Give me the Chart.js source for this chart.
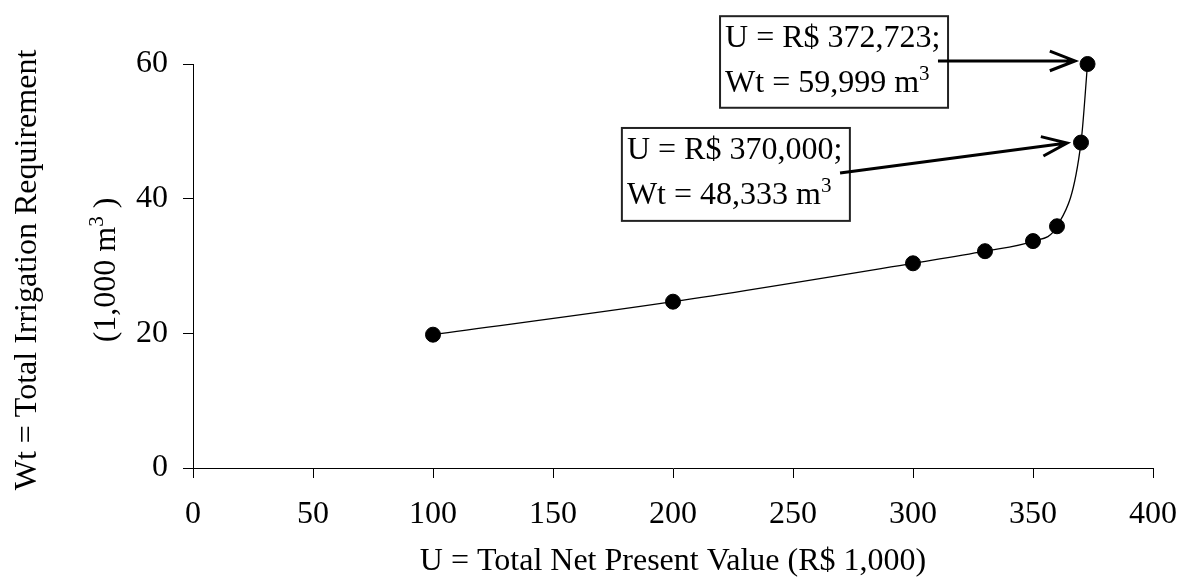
<!DOCTYPE html>
<html>
<head>
<meta charset="utf-8">
<script src="https://cdn.jsdelivr.net/npm/chart.js@4.4.0/dist/chart.umd.min.js"></script>
<style>
    html, body { margin: 0; padding: 0; background: #fff; }
    canvas { display: block; }
</style>
</head>
<body>
<canvas id="chart" width="1185" height="579"></canvas>
<script>
// values
const netPresentValue = [100, 200, 300, 330, 350, 360, 370, 372.723];
const irrigationReq = [19.8, 24.7, 30.4, 32.2, 33.7, 35.9, 48.333, 59.999];

const xTitle = 'U = Total Net Present Value (R$ 1,000)';
const yTitleLines = ['Wt = Total Irrigation Requirement', '(1,000 m³ )'];

const calloutLines = [
    ['U = R$ 372,723;', 'Wt = 59,999 m³'],
    ['U = R$ 370,000;', 'Wt = 48,333 m³']
];

// callout geometry in data units (x, y)
const calloutBoxes = [
    { box: [219.6, 67.1, 314.6, 53.5], textX: 221.7, textY: [62.5, 55.8], from: [310.4, 60.45], to: [367.5, 60.45] },
    { box: [178.7, 50.5, 273.7, 36.7], textX: 180.8, textY: [45.9, 39.2], from: [269.6, 43.8], to: [364.2, 48.27] }
];

const FONT = '"Liberation Serif", "Times New Roman", serif';
const MAIN_FONT = '32px ' + FONT;
const SUP_FONT = '21px ' + FONT;

// draws text where '³' is drawn as a raised smaller 3
function drawRich(ctx, text, x, y, align) {
    const parts = text.split('³');
    const pieces = [];
    parts.forEach((p, i) => {
        if (p) pieces.push({ t: p, sup: false });
        if (i < parts.length - 1) pieces.push({ t: '3', sup: true });
    });
    let total = 0;
    pieces.forEach(pc => {
        ctx.font = pc.sup ? SUP_FONT : MAIN_FONT;
        pc.w = ctx.measureText(pc.t).width;
        total += pc.w;
    });
    let cx = align === 'center' ? x - total / 2 : x;
    ctx.textAlign = 'left';
    ctx.textBaseline = 'alphabetic';
    pieces.forEach(pc => {
        ctx.font = pc.sup ? SUP_FONT : MAIN_FONT;
        ctx.fillText(pc.t, cx, pc.sup ? y - 12 : y);
        cx += pc.w;
    });
}

function drawArrow(ctx, x1, y1, x2, y2) {
    const ang = Math.atan2(y2 - y1, x2 - x1);
    const len = 27, spread = 0.37;
    ctx.beginPath();
    ctx.moveTo(x1, y1);
    ctx.lineTo(x2, y2);
    ctx.moveTo(x2 - len * Math.cos(ang - spread), y2 - len * Math.sin(ang - spread));
    ctx.lineTo(x2, y2);
    ctx.lineTo(x2 - len * Math.cos(ang + spread), y2 - len * Math.sin(ang + spread));
    ctx.stroke();
}

const extrasPlugin = {
    id: 'extras',
    afterDraw(chart) {
        const ctx = chart.ctx;
        const xs = chart.scales.x;
        const ys = chart.scales.y;
        ctx.save();

        // y axis title, two rotated lines
        ctx.fillStyle = '#000';
        const cy = 270;
        [36, 115].forEach((bx, i) => {
            ctx.save();
            ctx.translate(bx, cy);
            ctx.rotate(-Math.PI / 2);
            drawRich(ctx, yTitleLines[i], 0, 0, 'center');
            ctx.restore();
        });

        // callout boxes with arrows
        calloutBoxes.forEach((c, i) => {
            const l = xs.getPixelForValue(c.box[0]);
            const t = ys.getPixelForValue(c.box[1]);
            const r = xs.getPixelForValue(c.box[2]);
            const b = ys.getPixelForValue(c.box[3]);
            ctx.fillStyle = '#fff';
            ctx.fillRect(l, t, r - l, b - t);
            ctx.strokeStyle = '#222';
            ctx.lineWidth = 2;
            ctx.strokeRect(l, t, r - l, b - t);

            ctx.fillStyle = '#000';
            calloutLines[i].forEach((line, j) => {
                drawRich(ctx, line, xs.getPixelForValue(c.textX), ys.getPixelForValue(c.textY[j]), 'left');
            });

            ctx.strokeStyle = '#000';
            ctx.lineWidth = 3;
            drawArrow(ctx,
                xs.getPixelForValue(c.from[0]), ys.getPixelForValue(c.from[1]),
                xs.getPixelForValue(c.to[0]), ys.getPixelForValue(c.to[1]));
        });
        ctx.restore();
    }
};

const points = netPresentValue.map((v, i) => ({ x: v, y: irrigationReq[i] }));

new Chart(document.getElementById('chart').getContext('2d'), {
    type: 'scatter',
    data: {
        datasets: [{
            data: points,
            showLine: true,
            clip: false,
            borderColor: '#000',
            borderWidth: 1.3,
            cubicInterpolationMode: 'monotone',
            pointRadius: 7.5,
            pointBackgroundColor: '#000',
            pointBorderColor: '#000',
            pointBorderWidth: 1
        }]
    },
    options: {
        responsive: false,
        animation: false,
        devicePixelRatio: 1,
        layout: { padding: { top: 64, right: 32, left: 0, bottom: 0 } },
        plugins: {
            legend: { display: false },
            tooltip: { enabled: false }
        },
        scales: {
            x: {
                type: 'linear',
                min: 0,
                max: 400,
                afterFit: s => {
                    s.height = 111;
                    s.paddingLeft = 0;
                    s.paddingRight = 0;
                },
                ticks: {
                    stepSize: 50,
                    color: '#000',
                    padding: 17,
                    maxRotation: 0,
                    font: { family: FONT, size: 32 }
                },
                grid: { drawOnChartArea: false, drawTicks: true, tickLength: 10, color: '#000' },
                border: { color: '#000', width: 1 },
                title: {
                    display: true,
                    text: xTitle,
                    color: '#000',
                    font: { family: FONT, size: 32, lineHeight: 1 },
                    padding: { top: 1, bottom: 1 }
                }
            },
            y: {
                min: 0,
                max: 60,
                afterFit: s => {
                    s.width = 193;
                    s.paddingTop = 0;
                    s.paddingBottom = 0;
                },
                ticks: {
                    stepSize: 20,
                    color: '#000',
                    padding: 15,
                    font: { family: FONT, size: 32 }
                },
                grid: { drawOnChartArea: false, drawTicks: true, tickLength: 10, color: '#000' },
                border: { color: '#000', width: 1 }
            }
        }
    },
    plugins: [extrasPlugin]
});
</script>
</body>
</html>
